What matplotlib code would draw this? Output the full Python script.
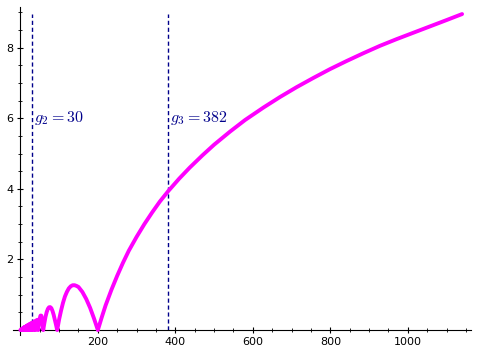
import matplotlib
matplotlib.use("Agg")
import matplotlib.pyplot as plt
from matplotlib.ticker import MultipleLocator

# curve data
curve_x = [0, 2, 3, 4.5, 5, 6, 7, 8, 9, 10, 11, 12, 13, 14, 15, 16, 17, 18.2, 19.5, 20.8, 22,
           23.5, 25, 26.8, 28.5, 30.7, 33, 36, 39, 40.5, 42, 43.5, 45, 46,
           48, 50, 52, 54, 56, 58, 59,
           62, 65, 68, 71, 74, 77, 80, 83, 86, 89, 92, 95,
           100, 105, 110, 115, 120, 125, 130, 135, 140, 145, 150, 160, 170, 180, 190, 200,
           210, 220, 235, 250, 265, 280, 300, 320, 340, 360, 382, 410, 437, 470, 500,
           541, 580, 627, 670, 713, 756, 799, 842, 885, 928, 971, 1014, 1057, 1100, 1140]
curve_y = [0, 0.02, 0, 0.035, 0, 0.05, 0, 0.065, 0, 0.08, 0, 0.09, 0, 0.105, 0, 0.12, 0, 0.135, 0, 0.15, 0,
           0.17, 0, 0.19, 0, 0.21, 0, 0.25, 0, 0.17, 0.28, 0.29, 0.15, 0,
           0.18, 0.33, 0.41, 0.41, 0.3, 0.1, 0,
           0.2, 0.38, 0.51, 0.6, 0.645, 0.65, 0.62, 0.54, 0.43, 0.29, 0.15, 0,
           0.3, 0.55, 0.77, 0.95, 1.08, 1.18, 1.24, 1.27, 1.27, 1.25, 1.22, 1.08, 0.88, 0.63, 0.33, 0,
           0.36, 0.70, 1.14, 1.54, 1.91, 2.25, 2.64, 3.00, 3.33, 3.64, 3.94, 4.29, 4.60, 4.95, 5.25,
           5.62, 5.95, 6.30, 6.60, 6.88, 7.14, 7.39, 7.62, 7.84, 8.05, 8.24, 8.42, 8.60, 8.78, 8.95]

marker_x = [30, 382]
marker_labels = [r"$g_2 = 30$", r"$g_3 = 382$"]
line_top = 8.95
label_y = 6.0

x_ticks = [200, 400, 600, 800, 1000]
y_ticks = [2, 4, 6, 8]

plt.rcParams['mathtext.fontset'] = 'cm'

fig = plt.figure(figsize=(4.78, 3.56), dpi=100)
ax = fig.add_axes([13/478, 21/356, (471-13)/478, (335-7)/356])

ax.plot(curve_x, curve_y, color='#ff00ff', linewidth=2.8, solid_capstyle='round', solid_joinstyle='round', zorder=3)

for gx, lab in zip(marker_x, marker_labels):
    ax.plot([gx, gx], [0, line_top], color='#00008b', linewidth=1.0, linestyle=(0, (3, 2)), zorder=2)
    ax.text(gx + 4, label_y, lab, color='#00008b', fontsize=11.5, ha='left', va='center')

ax.set_xlim(-19, 1163)
ax.set_ylim(-0.14, 9.15)

for s in ['top', 'right']:
    ax.spines[s].set_visible(False)
ax.spines['left'].set_position(('data', 0))
ax.spines['bottom'].set_position(('data', 0))
ax.spines['left'].set_linewidth(0.8)
ax.spines['bottom'].set_linewidth(0.8)

ax.set_xticks(x_ticks)
ax.set_xticklabels([str(v) for v in x_ticks])
ax.set_yticks(y_ticks)
ax.set_yticklabels([str(v) for v in y_ticks])
ax.xaxis.set_minor_locator(MultipleLocator(50))
ax.yaxis.set_minor_locator(MultipleLocator(0.5))
ax.tick_params(axis='both', which='major', labelsize=8, length=4, width=0.8, direction='inout')
ax.tick_params(axis='both', which='minor', length=2.5, width=0.6, direction='inout')
ax.tick_params(axis='x', pad=3)
ax.tick_params(axis='y', pad=3)

fig.savefig("out.png", dpi=100)
